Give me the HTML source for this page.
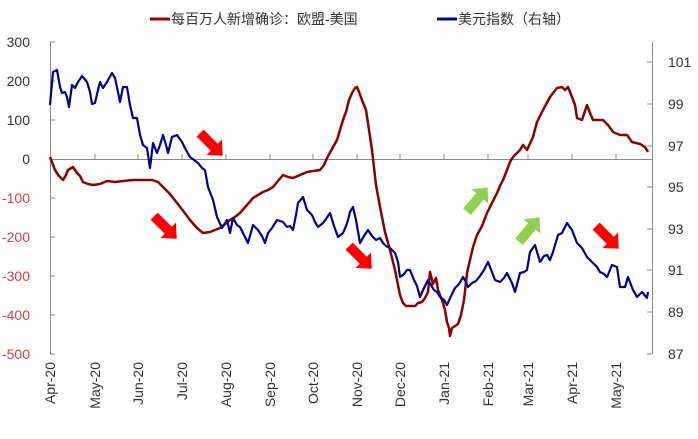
<!DOCTYPE html>
<html><head><meta charset="utf-8"><style>
body{margin:0;background:#fff;}
svg text{font-family:"Liberation Sans","Noto Sans CJK SC",sans-serif;}
</style></head><body>
<svg width="698" height="434" viewBox="0 0 698 434" xmlns="http://www.w3.org/2000/svg">
<rect width="698" height="434" fill="#fff"/>
<line x1="150" y1="19" x2="170" y2="19" stroke="#8b0000" stroke-width="3"/>
<text x="171" y="24" font-size="14" fill="#333">每百万人新增确诊：欧盟-美国</text>
<line x1="437" y1="19" x2="457" y2="19" stroke="#00008b" stroke-width="3"/>
<text x="458" y="24" font-size="14" fill="#333">美元指数（右轴）</text>
<g stroke="#888" stroke-width="1" fill="none">
<line x1="50.5" y1="42" x2="50.5" y2="354"/>
<line x1="50" y1="42" x2="55" y2="42"/><line x1="50" y1="81" x2="55" y2="81"/><line x1="50" y1="120" x2="55" y2="120"/><line x1="50" y1="198" x2="55" y2="198"/><line x1="50" y1="237" x2="55" y2="237"/><line x1="50" y1="276" x2="55" y2="276"/><line x1="50" y1="315" x2="55" y2="315"/><line x1="50" y1="354" x2="55" y2="354"/>
<line x1="652.5" y1="42" x2="652.5" y2="354"/>
<line x1="647" y1="62" x2="652" y2="62"/><line x1="647" y1="104" x2="652" y2="104"/><line x1="647" y1="146" x2="652" y2="146"/><line x1="647" y1="187" x2="652" y2="187"/><line x1="647" y1="229" x2="652" y2="229"/><line x1="647" y1="270" x2="652" y2="270"/><line x1="647" y1="312" x2="652" y2="312"/><line x1="647" y1="354" x2="652" y2="354"/>
<line x1="50" y1="159.5" x2="652" y2="159.5"/>
<g><line x1="95" y1="154" x2="95" y2="159"/><line x1="138" y1="154" x2="138" y2="159"/><line x1="182" y1="154" x2="182" y2="159"/><line x1="226" y1="154" x2="226" y2="159"/><line x1="270" y1="154" x2="270" y2="159"/><line x1="313" y1="154" x2="313" y2="159"/><line x1="357" y1="154" x2="357" y2="159"/><line x1="400" y1="154" x2="400" y2="159"/><line x1="444" y1="154" x2="444" y2="159"/><line x1="488" y1="154" x2="488" y2="159"/><line x1="528" y1="154" x2="528" y2="159"/><line x1="572" y1="154" x2="572" y2="159"/><line x1="616" y1="154" x2="616" y2="159"/></g>
</g>
<g font-size="14" fill="#333" text-anchor="end">
<text x="30" y="47">300</text><text x="30" y="86">200</text><text x="30" y="125">100</text><text x="30" y="164">0</text>
<g fill="#d04444"><text x="30" y="203">-100</text><text x="30" y="242">-200</text><text x="30" y="281">-300</text><text x="30" y="320">-400</text><text x="30" y="359">-500</text></g>
</g>
<g font-size="14" fill="#333" text-anchor="start">
<text x="668" y="67">101</text><text x="668" y="109">99</text><text x="668" y="151">97</text><text x="668" y="192">95</text><text x="668" y="234">93</text><text x="668" y="275">91</text><text x="668" y="317">89</text><text x="668" y="359">87</text>
</g>
<g font-size="14" fill="#333" text-anchor="end">
<text transform="translate(55,362) rotate(-90)">Apr-20</text>
<text transform="translate(100,362) rotate(-90)">May-20</text>
<text transform="translate(143,362) rotate(-90)">Jun-20</text>
<text transform="translate(187,362) rotate(-90)">Jul-20</text>
<text transform="translate(231,362) rotate(-90)">Aug-20</text>
<text transform="translate(275,362) rotate(-90)">Sep-20</text>
<text transform="translate(318,362) rotate(-90)">Oct-20</text>
<text transform="translate(362,362) rotate(-90)">Nov-20</text>
<text transform="translate(405,362) rotate(-90)">Dec-20</text>
<text transform="translate(449,362) rotate(-90)">Jan-21</text>
<text transform="translate(493,362) rotate(-90)">Feb-21</text>
<text transform="translate(533,362) rotate(-90)">Mar-21</text>
<text transform="translate(577,362) rotate(-90)">Apr-21</text>
<text transform="translate(621,362) rotate(-90)">May-21</text>
</g>
<polyline fill="none" stroke="#8b0000" stroke-width="2.5" stroke-linejoin="round" points="50,157 55,170 59,176 63,180 66,175 68,170 73,167 75,170 77,173 80,176 83,182 88,184 93,185 100,184 107,181 115,182 123,181 133,180 140,180 152,180 158,182 163,187 170,194 177,203 184,212 190,220 197,228 203,233 210,232 220,228 225,224 230,220 235,217 240,213 247,205 253,198 258,195 263,192 268,190 273,187 278,181 283,175 288,177 293,178 300,175 307,172 313,171 320,170 324,165 327,158 332,149 337,140 340,130 343,120 346,112 349,100 352,93 355,88 357,87 359,92 362,100 366,110 369,130 372,150 376,185 380,207 385,232 390,250 395,270 400,295 403,303 406,306 415,306 418,303 422,302 425,298 428,292 430,272 433,284 436,278 438,290 442,300 445,310 447,322 449,328 450,336 452,328 455,326 458,324 461,315 464,300 467,273 470,260 473,247 477,235 482,226 487,213 492,203 497,193 500,186 503,180 507,170 510,162 513,157 520,150 523,145 527,150 533,137 537,122 543,110 550,97 557,88 562,87 565,90 568,87 572,97 575,105 577,118 582,120 587,105 590,113 593,120 603,120 608,125 613,132 620,135 627,135 632,142 640,144 645,147 648,152"/>
<polyline fill="none" stroke="#00008b" stroke-width="2.2" stroke-linejoin="round" points="50,105 53,72 57,70 60,87 62,93 65,92 67,97 69,107 72,85 75,88 78,82 82,76 87,82 90,92 92,104 95,103 98,90 100,82 103,88 107,82 112,73 115,78 118,92 120,102 123,87 127,87 130,105 133,118 137,118 140,135 143,145 147,148 150,168 153,143 157,153 160,145 163,135 166,145 168,153 172,137 177,135 182,142 186,150 190,157 194,160 198,163 202,168 205,170 208,187 213,200 217,217 222,228 227,220 230,233 233,218 237,225 240,227 244,235 248,243 253,225 258,230 262,236 265,243 268,233 272,228 277,220 283,222 287,227 290,226 293,230 296,215 298,203 303,197 307,210 312,215 315,222 318,227 323,223 326,219 330,213 334,226 338,237 343,233 346,226 348,220 350,212 353,207 356,220 360,243 364,236 368,230 372,236 376,240 380,238 383,243 386,246 390,248 395,253 398,262 400,277 404,274 407,270 410,270 414,280 417,286 420,297 424,288 428,280 431,285 434,290 437,292 440,297 444,300 447,305 451,296 455,288 459,284 463,277 466,282 468,287 472,283 476,281 480,276 484,270 488,262 492,272 495,280 500,282 504,278 507,273 510,279 512,283 515,292 520,273 524,272 527,270 530,252 535,245 540,262 544,256 547,255 550,260 553,252 558,235 562,233 567,223 572,230 577,243 582,248 587,257 592,262 597,267 600,272 604,274 607,277 612,265 617,267 620,287 625,287 628,277 633,290 637,297 642,292 647,298 648,292"/>
<defs>
<polygon id="arr" points="-14,-5 6,-5 6,-11 18,0 6,11 6,5 -14,5"/>
</defs>
<use href="#arr" fill="#ff0000" transform="translate(210,143) rotate(45)"/>
<use href="#arr" fill="#ff0000" transform="translate(164,226) rotate(45)"/>
<use href="#arr" fill="#ff0000" transform="translate(359,256) rotate(45)"/>
<use href="#arr" fill="#ff0000" transform="translate(606,236) rotate(45)"/>
<use href="#arr" fill="#92d050" transform="translate(476,201) rotate(-50)"/>
<use href="#arr" fill="#92d050" transform="translate(528,231) rotate(-50)"/>
</svg>
</body></html>
